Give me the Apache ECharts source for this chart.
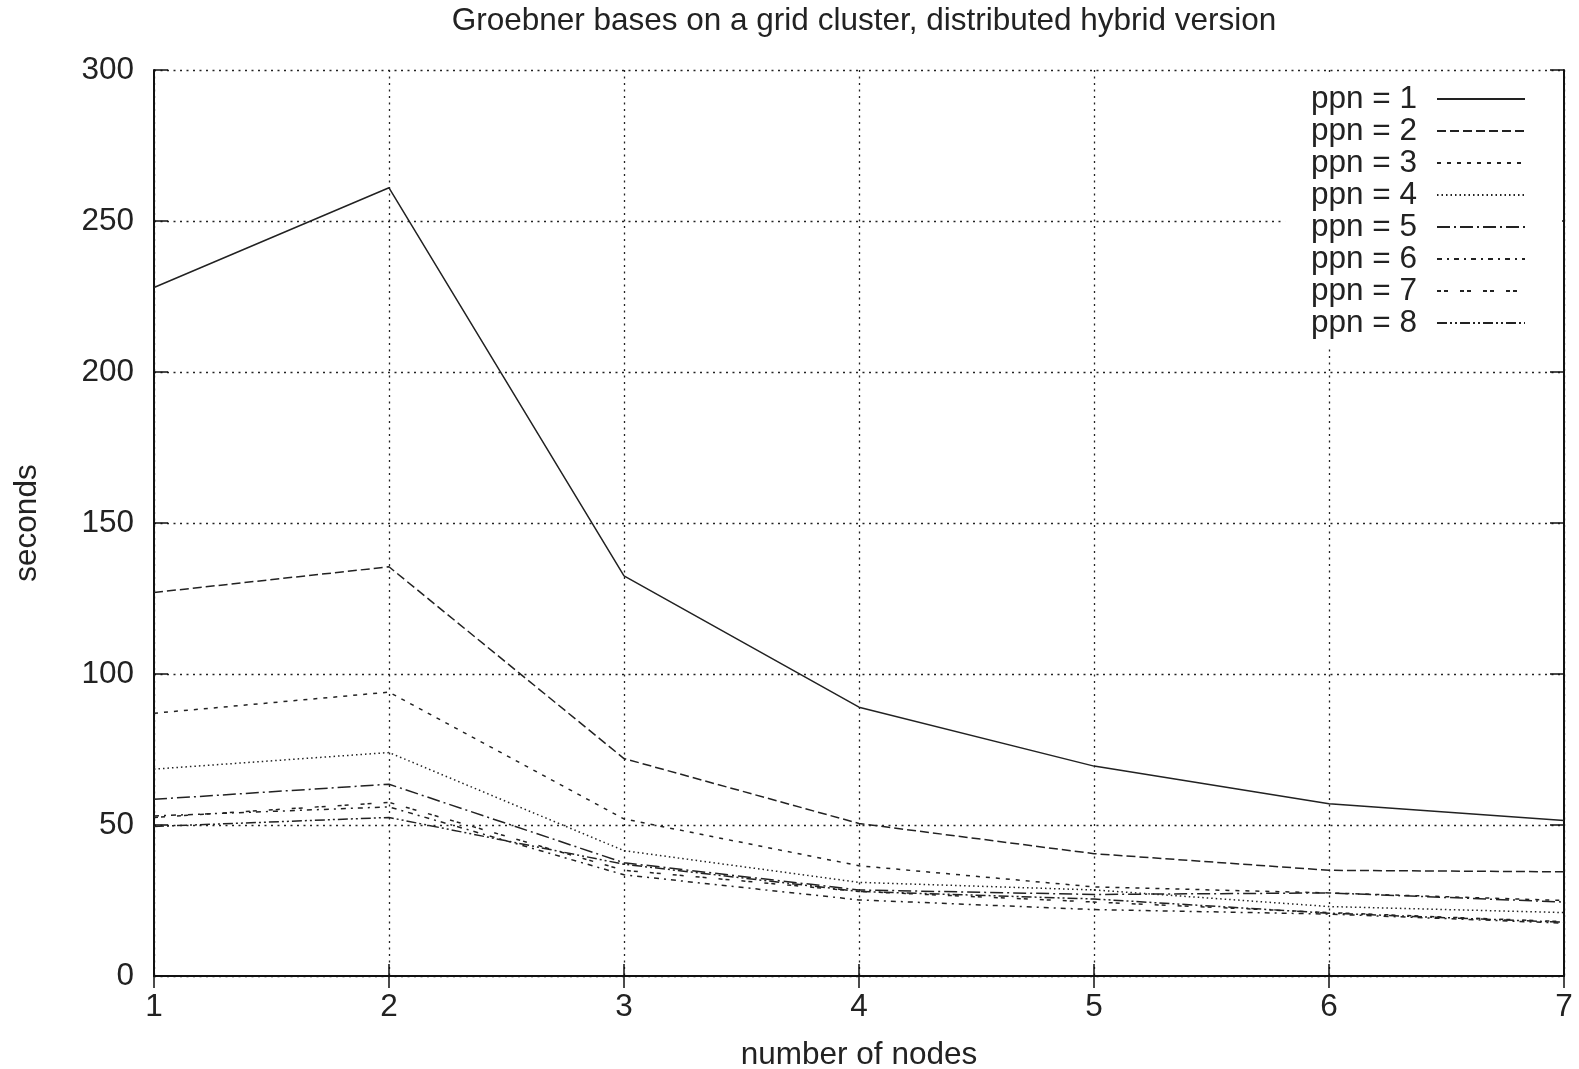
<!DOCTYPE html>
<html>
<head>
<meta charset="utf-8">
<script src="https://cdn.jsdelivr.net/npm/echarts@6/dist/echarts.min.js"></script>
<style>
  html, body { margin: 0; padding: 0; background: #fff; }
  #chart { width: 1579px; height: 1069px; }
</style>
</head>
<body>
<div id="chart"></div>
<script>
var nodes = [1, 2, 3, 4, 5, 6, 7];
var ppn1 = [228, 261, 132.5, 89, 69.5, 57, 51.5];
var ppn2 = [127, 135.5, 72, 50.5, 40.5, 35, 34.5];
var ppn3 = [87, 94, 52, 36.5, 29.5, 27.5, 25];
var ppn4 = [68.5, 74, 41.5, 31, 28.5, 23, 21];
var ppn5 = [58.5, 63.5, 37.5, 28.5, 27, 27.5, 24.5];
var ppn6 = [53, 56, 33.5, 25.2, 22, 20.5, 17.5];
var ppn7 = [52.5, 57.5, 35, 28, 24.5, 21, 18];
var ppn8 = [49.5, 52.5, 37, 28, 25.5, 20.8, 17.8];
var names = ['ppn = 1', 'ppn = 2', 'ppn = 3', 'ppn = 4', 'ppn = 5', 'ppn = 6', 'ppn = 7', 'ppn = 8'];

var font = 'Liberation Sans';
var fs = 31.5;
var ink = '#222';

// gnuplot style dash patterns
var dashes = [
  'solid',
  [9, 4],
  [4, 6],
  [1.5, 3],
  [13, 4, 2, 4],
  [5, 5, 2, 5],
  [4, 3, 4, 12],
  [10, 3, 2, 3, 2, 3]
];

function pairs(vals) {
  var out = [];
  for (var i = 0; i < nodes.length; i++) {
    out.push([nodes[i], vals[i]]);
  }
  return out;
}

var allData = [ppn1, ppn2, ppn3, ppn4, ppn5, ppn6, ppn7, ppn8];
var series = [];
for (var k = 0; k < allData.length; k++) {
  series.push({
    name: names[k],
    type: 'line',
    data: pairs(allData[k]),
    symbol: 'none',
    animation: false,
    itemStyle: { color: ink },
    lineStyle: { color: ink, width: 1.5, type: dashes[k] }
  });
}

var gridLine = { show: true, lineStyle: { color: '#222', width: 1.3, type: [2, 4.5] } };

var chart = echarts.init(document.getElementById('chart'));
var option = {
  backgroundColor: '#fff',
  animation: false,
  title: {
    text: 'Groebner bases on a grid cluster, distributed hybrid version',
    left: 859,
    textAlign: 'center',
    top: 0,
    textStyle: { fontFamily: font, fontSize: fs, fontWeight: 'normal', color: ink }
  },
  legend: {
    orient: 'vertical',
    right: 17,
    top: 72,
    align: 'right',
    backgroundColor: '#fff',
    padding: [11, 36, 8, 26],
    itemWidth: 88,
    itemHeight: 14,
    itemGap: 0,
    itemStyle: { opacity: 0 },
    textStyle: { fontFamily: font, fontSize: fs, color: ink, lineHeight: 31.6, padding: [0, 15, 0, 0] },
    data: names
  },
  grid: { left: 154, right: 15, top: 70, bottom: 93, outerBoundsMode: 'none' },
  xAxis: [{
    type: 'value',
    min: 1,
    max: 7,
    interval: 1,
    name: 'number of nodes',
    nameLocation: 'middle',
    nameGap: 63,
    nameTextStyle: { fontFamily: font, fontSize: fs, color: ink },
    axisLine: { show: true, lineStyle: { color: '#111', width: 2 } },
    axisTick: { show: true, inside: true, length: 12, lineStyle: { color: '#111', width: 1.5 } },
    axisLabel: { fontFamily: font, fontSize: fs, color: ink, margin: 15 },
    splitLine: gridLine
  }, {
    type: 'value',
    position: 'top',
    min: 1,
    max: 7,
    interval: 1,
    axisLine: { show: true, lineStyle: { color: '#111', width: 2 } },
    axisTick: { show: true, inside: true, length: 12, lineStyle: { color: '#111', width: 1.5 } },
    axisLabel: { show: false },
    splitLine: { show: false }
  }],
  yAxis: [{
    type: 'value',
    min: 0,
    max: 300,
    interval: 50,
    name: 'seconds',
    nameLocation: 'middle',
    nameGap: 111,
    nameTextStyle: { fontFamily: font, fontSize: fs, color: ink },
    axisLine: { show: true, lineStyle: { color: '#111', width: 2 } },
    axisTick: { show: true, inside: true, length: 14, lineStyle: { color: '#111', width: 1.5 } },
    axisLabel: { fontFamily: font, fontSize: fs, color: ink, margin: 20 },
    splitLine: gridLine
  }, {
    type: 'value',
    position: 'right',
    min: 0,
    max: 300,
    interval: 50,
    axisLine: { show: true, lineStyle: { color: '#111', width: 2 } },
    axisTick: { show: true, inside: true, length: 14, lineStyle: { color: '#111', width: 1.5 } },
    axisLabel: { show: false },
    splitLine: { show: false }
  }],
  series: series
};
chart.setOption(option);
</script>
</body>
</html>
